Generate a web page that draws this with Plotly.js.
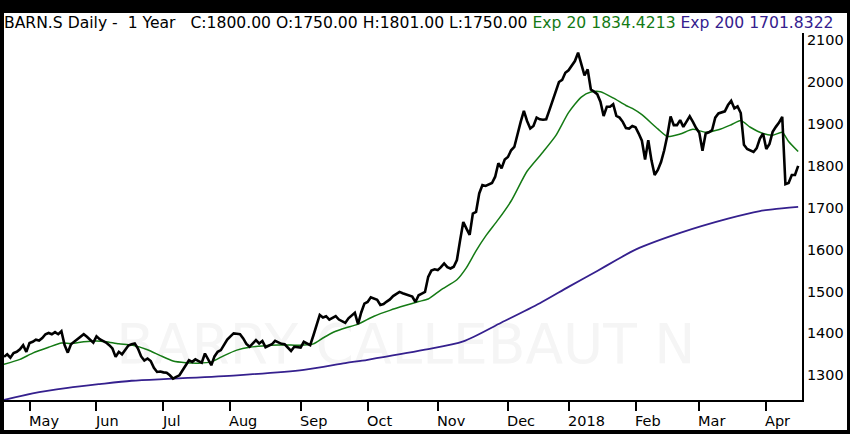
<!DOCTYPE html>
<html>
<head>
<meta charset="utf-8">
<script src="https://cdn.plot.ly/plotly-3.0.1.min.js"></script>
<style>
  html, body { margin: 0; padding: 0; background: #000; width: 850px; height: 434px; overflow: hidden; }
  #chart { position: absolute; left: 4px; top: 13px; width: 843px; height: 417px; background: #fff; }
</style>
</head>
<body>
<div id="chart"></div>
<script>
// ---- Data ----
const closeValues = [
  1344,1350,1342,1353,1356,1362,1372,1356,1377,1380,
  1385,1383,1389,1398,1401,1398,1403,1398,1405,1372,
  1354,1374,1380,1386,1392,1398,1392,1385,1378,1393,
  1386,1382,1378,1372,1364,1344,1356,1350,1362,1371,
  1374,1376,1364,1345,1335,1340,1334,1318,1308,1309,
  1307,1306,1300,1292,1296,1300,1312,1325,1336,1332,
  1338,1334,1330,1352,1336,1324,1345,1356,1360,1372,
  1385,1393,1400,1399,1398,1388,1375,1368,1376,1384,
  1376,1382,1367,1370,1374,1382,1378,1375,1374,1365,
  1358,1368,1367,1366,1380,1376,1372,1395,1420,1444,
  1438,1441,1433,1438,1441,1433,1428,1425,1436,1442,
  1449,1422,1450,1471,1475,1486,1483,1480,1468,1470,
  1476,1481,1489,1494,1499,1496,1493,1491,1488,1475,
  1491,1495,1499,1535,1550,1553,1551,1558,1567,1558,
  1555,1559,1575,1622,1666,1650,1635,1686,1690,1734,
  1754,1752,1755,1759,1774,1806,1794,1815,1821,1837,
  1845,1877,1905,1931,1907,1889,1895,1915,1911,1910,
  1911,1933,1957,1981,2000,2005,2022,2028,2040,2050,
  2070,2040,2016,2030,1982,1977,1971,1953,1919,1941,
  1941,1947,1919,1915,1905,1890,1889,1895,1892,1877,
  1860,1815,1861,1813,1778,1790,1809,1837,1873,1918,
  1897,1897,1909,1893,1905,1918,1905,1890,1879,1836,
  1877,1880,1885,1915,1925,1927,1930,1945,1955,1937,
  1942,1926,1850,1840,1836,1833,1842,1865,1877,1840,
  1852,1881,1893,1903,1917,1756,1759,1778,1778,1800
];

const ema20Idx = [0,5,9,14,18,21,25,29,32,36,40,45,49,53,57,61,65,69,73,77,81,86,90,94,97,100,104,107,111,116,121,126,130,133,137,142,145,148,151,155,159,164,169,173,177,181,184,187,191,195,197,200,205,208,212,216,220,224,228,231,234,238,241,244,246,249];
const ema20Values = [1326,1338,1353,1367,1377,1376,1380,1382,1380,1375,1372,1361,1347,1334,1330,1329,1332,1347,1360,1367,1370,1372,1372,1372,1375,1389,1405,1413,1422,1441,1455,1467,1476,1482,1504,1528,1557,1597,1632,1672,1716,1787,1833,1872,1927,1964,1976,1977,1962,1944,1937,1922,1888,1870,1876,1887,1880,1886,1898,1908,1892,1877,1873,1880,1858,1834];

const ema200Idx = [0,9,20,30,40,53,73,94,107,114,132,144,156,168,177,186,192,198,212,227,237,241,249];
const ema200Values = [1241,1257,1270,1279,1287,1292,1300,1313,1329,1337,1361,1381,1426,1472,1511,1549,1575,1600,1640,1674,1692,1696,1702];

const monthTickIdx = [8,29,50,71,93,114,136,158,177,198,218,239];
const monthLabels = ['May','Jun','Jul','Aug','Sep','Oct','Nov','Dec','2018','Feb','Mar','Apr'];

const symbolName = 'BARN.S Daily -\u00a0\u00a01 Year';
const ohlcText = 'C:1800.00 O:1750.00 H:1801.00 L:1750.00';
const ema20Label = 'Exp 20 1834.4213';
const ema200Label = 'Exp 200 1701.8322';
const watermarkText = 'BARRY CALLEBAUT N';

// ---- Styles ----
const FONT = 'DejaVu Sans, Verdana, sans-serif';
const GREEN = '#147a14';
const PURPLE = '#35208e';

const traces = [
  { // watermark drawn first so lines pass over it
    x: [126], y: [1362], mode: 'text', text: [watermarkText],
    textfont: { family: FONT, size: 55, color: '#f5f5f5' },
    hoverinfo: 'skip', showlegend: false
  },
  {
    x: ema200Idx, y: ema200Values, mode: 'lines',
    line: { color: PURPLE, width: 1.8, shape: 'spline', smoothing: 0.8 },
    hoverinfo: 'skip', showlegend: false
  },
  {
    x: ema20Idx, y: ema20Values, mode: 'lines',
    line: { color: GREEN, width: 1.5, shape: 'spline', smoothing: 0.6 },
    hoverinfo: 'skip', showlegend: false
  },
  {
    y: closeValues, mode: 'lines',
    line: { color: '#000', width: 2.6 }, hoverinfo: 'skip', showlegend: false
  }
];

const annotations = monthLabels.map((lab, k) => ({
  x: monthTickIdx[k], xref: 'x', y: 0, yref: 'paper',
  xanchor: 'left', yanchor: 'top', yshift: -11, xshift: -3,
  text: lab, showarrow: false,
  font: { family: FONT, size: 14.5, color: '#000' }
}));

annotations.push({
  x: 0, xref: 'paper', y: 1, yref: 'paper', xanchor: 'left', yanchor: 'bottom',
  xshift: -2, yshift: -1, showarrow: false,
  text: symbolName + '\u00a0\u00a0\u00a0' + ohlcText + ' <span style="color:' + GREEN + '">' + ema20Label +
        '</span> <span style="color:' + PURPLE + '">' + ema200Label + '</span>',
  font: { family: FONT, size: 15.6, color: '#000' }
});

const layout = {
  width: 843, height: 417,
  margin: { l: 0, r: 45, t: 20, b: 30, pad: 0 },
  paper_bgcolor: '#fff', plot_bgcolor: '#fff',
  showlegend: false,
  xaxis: {
    range: [0, 250.2], showgrid: false, zeroline: false,
    showline: true, linecolor: '#000', linewidth: 2,
    ticks: 'outside', ticklen: 9, tickwidth: 2, tickcolor: '#000',
    tickmode: 'array', tickvals: monthTickIdx, showticklabels: false,
    fixedrange: true
  },
  yaxis: {
    side: 'right', range: [1241, 2117], showgrid: false, zeroline: false,
    showline: true, linecolor: '#000', linewidth: 2,
    ticks: '', tick0: 0, dtick: 100, tickformat: 'd',
    tickfont: { family: FONT, size: 14.5, color: '#000' },
    fixedrange: true
  },
  annotations: annotations
};

Plotly.newPlot('chart', traces, layout, { staticPlot: true, displayModeBar: false });
</script>
</body>
</html>
